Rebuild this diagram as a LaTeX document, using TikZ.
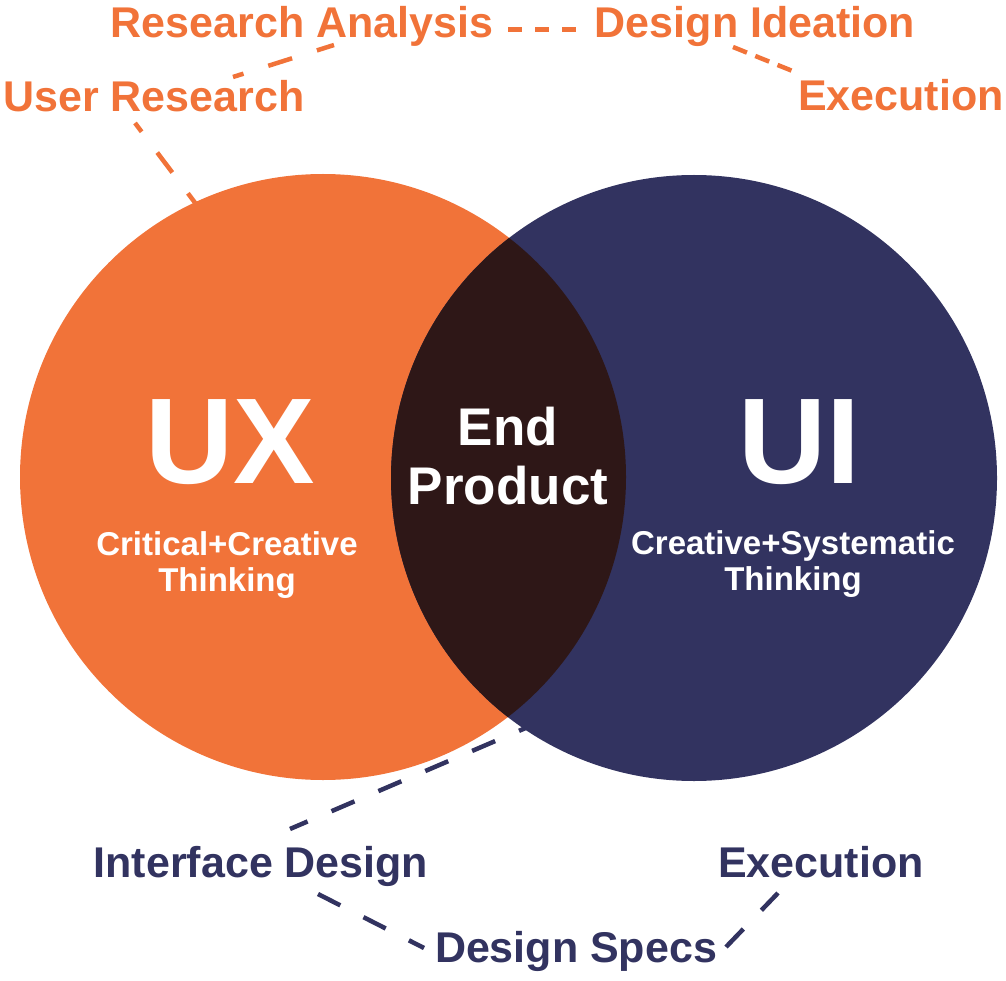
\documentclass[tikz,border=0pt]{standalone}
\usepackage{fontspec}
\setmainfont{Liberation Sans}
\definecolor{UxOrange}{RGB}{241,115,57}
\definecolor{UiNavy}{RGB}{50,51,96}
\definecolor{EndBrown}{RGB}{46,23,23}
\usetikzlibrary{calc}

\begin{document}
\begin{tikzpicture}[
    x=1pt, y=-1pt,
    lbl/.style={text=#1, font=\bfseries\fontsize{43}{50}\selectfont, inner sep=0pt, anchor=base},
    bigtag/.style={text=white, font=\bfseries\fontsize{122}{130}\selectfont, inner sep=0pt, anchor=base},
    subtag/.style 2 args={text=white, font=\bfseries\fontsize{#1}{#2}\selectfont, inner sep=0pt, anchor=base, align=center},
    dashline/.style={draw=#1, line width=4.5pt, dash pattern=on 25pt off 26pt}
]
    \useasboundingbox (0,0) rectangle (1006,981);
    % the two circles and their overlap
    \coordinate (uxc) at (323,477);
    \coordinate (uic) at (694,478);
    \fill[UxOrange] (uxc) circle[radius=303pt];
    \fill[UiNavy]   (uic) circle[radius=303pt];
    \begin{scope}
        \clip (uxc) circle[radius=303pt];
        \fill[EndBrown] (uic) circle[radius=303pt];
    \end{scope}

    \node[bigtag] (ux) at (230,483) {UX};
    \node[bigtag] (ui) at (799,483) {UI};
    % base anchor = baseline of the last line
    \node[subtag={33}{36}] (uxsub) at (227,591) {Critical+Creative\\Thinking};
    \node[subtag={33}{36}] (uisub) at (793,590) {Creative+Systematic\\Thinking};
    \node[subtag={53}{59}] (endprod) at (508,504) {End\\Product};

    % orange labels
    \node[lbl=UxOrange] (resana)  at (302,38)  {Research Analysis};
    \node[lbl=UxOrange] (desidea) at (755,38)  {Design Ideation};
    \node[lbl=UxOrange] (userres) at (154,112) {User Research};
    \node[lbl=UxOrange] (uxexec)  at (901,111) {Execution};
    % navy labels
    \node[lbl=UiNavy] (ifdesign) at (261,877) {Interface Design};
    \node[lbl=UiNavy] (uiexec)   at (821,877) {Execution};
    \node[lbl=UiNavy] (desspecs) at (576,962) {Design Specs};

    % ends of the dashed connectors
    \coordinate (uxedge) at (199,208);
    \coordinate (urtop)  at (135,123);
    \coordinate (urup)   at (233,77);
    \coordinate (radown) at (334,45);
    \coordinate (raend)  at (508,30);
    \coordinate (distart) at (576,30);
    \coordinate (didown) at (733,47);
    \coordinate (exup)   at (795,72);
    \coordinate (uiedge) at (542,721);
    \coordinate (idup)   at (290,829);
    \coordinate (iddown) at (318,894);
    \coordinate (dsleft) at (424,948);
    \coordinate (dsright) at (726,947);
    \coordinate (exdown) at (778,893);

    \draw[dashline=UxOrange, dash phase=14pt] (urtop) -- (uxedge);
    \draw[dashline=UxOrange, dash phase=14pt] (urup) -- (radown);
    \draw[UxOrange, line width=5pt, dash pattern=on 13.5pt off 13.5pt] (raend) -- (distart);
    \draw[UxOrange, line width=4.5pt, dash pattern=on 15pt off 9pt] (didown) -- (exup);
    \draw[dashline=UiNavy] (uiedge) -- (idup);
    \draw[dashline=UiNavy] (iddown) -- (dsleft);
    \draw[dashline=UiNavy] (dsright) -- (exdown);
\end{tikzpicture}
\end{document}
